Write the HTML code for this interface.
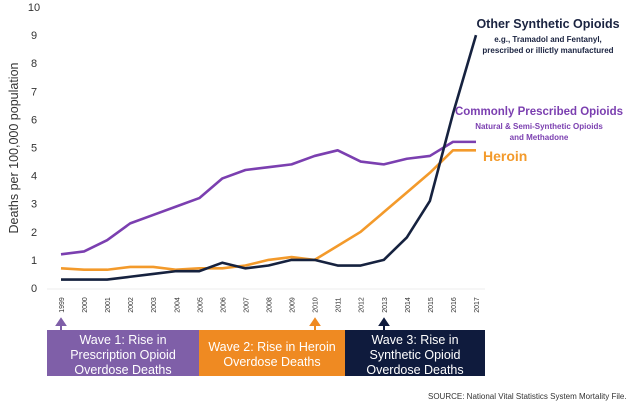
<!DOCTYPE html>
<html><head><meta charset="utf-8"><style>
body{margin:0;background:#fff;width:634px;height:411px;overflow:hidden;font-family:"Liberation Sans",sans-serif}
svg text{font-family:"Liberation Sans",sans-serif}
</style></head><body>
<svg width="634" height="411">
<g id="axes"></g><g id="lines"></g>
<g>
<rect x="47" y="330" width="152" height="46" fill="#7f5fa8"/>
<rect x="199" y="330" width="146" height="46" fill="#ef8a22"/>
<rect x="345" y="330" width="140" height="46" fill="#0f1b3d"/>
<g fill="#fff" font-size="12.5" text-anchor="middle">
<text x="123" y="344"><tspan x="123">Wave 1: Rise in</tspan><tspan x="123" dy="15">Prescription Opioid</tspan><tspan x="123" dy="15">Overdose Deaths</tspan></text>
<text x="272" y="351"><tspan x="272">Wave 2: Rise in Heroin</tspan><tspan x="272" dy="15">Overdose Deaths</tspan></text>
<text x="415" y="344"><tspan x="415">Wave 3: Rise in</tspan><tspan x="415" dy="15">Synthetic Opioid</tspan><tspan x="415" dy="15">Overdose Deaths</tspan></text>
</g>
<path d="M61 330V321M57 325L61 319L65 325Z" stroke="#7f5fa8" stroke-width="2" fill="#7f5fa8"/>
<path d="M315 330V321M311 325L315 319L319 325Z" stroke="#ef8a22" stroke-width="2" fill="#ef8a22"/>
<path d="M384 330V321M380 325L384 319L388 325Z" stroke="#0f1b3d" stroke-width="2" fill="#0f1b3d"/>
</g>
<text x="548" y="28" font-size="12.5" font-weight="bold" fill="#1a2340" text-anchor="middle">Other Synthetic Opioids</text>
<text x="548" y="42" font-size="8" font-weight="bold" fill="#1a2340" text-anchor="middle">e.g., Tramadol and Fentanyl,</text>
<text x="548" y="53" font-size="8" font-weight="bold" fill="#1a2340" text-anchor="middle">prescribed or illictly manufactured</text>
<text x="539" y="115" font-size="11.5" font-weight="bold" fill="#7b3fb0" text-anchor="middle">Commonly Prescribed Opioids</text>
<text x="539" y="129" font-size="8" font-weight="bold" fill="#7b3fb0" text-anchor="middle">Natural &amp; Semi-Synthetic Opioids</text>
<text x="539" y="140" font-size="8" font-weight="bold" fill="#7b3fb0" text-anchor="middle">and Methadone</text>
<text x="483" y="161" font-size="14" font-weight="bold" fill="#f39a2b">Heroin</text>
<text x="428" y="399" font-size="8" fill="#333">SOURCE: National Vital Statistics System Mortality File.</text>
<text transform="translate(18,148) rotate(-90)" font-size="12.5" fill="#333" text-anchor="middle">Deaths per 100,000 population</text>
</svg>
<script>
const years=[1999,2000,2001,2002,2003,2004,2005,2006,2007,2008,2009,2010,2011,2012,2013,2014,2015,2016,2017];
const prescribed=[1.2,1.3,1.7,2.3,2.6,2.9,3.2,3.9,4.2,4.3,4.4,4.7,4.9,4.5,4.4,4.6,4.7,5.2,5.2];
const heroin=[0.7,0.65,0.65,0.75,0.75,0.65,0.7,0.7,0.8,1.0,1.1,1.0,1.5,2.0,2.7,3.4,4.1,4.9,4.9];
const synthetic=[0.3,0.3,0.3,0.4,0.5,0.6,0.6,0.9,0.7,0.8,1.0,1.0,0.8,0.8,1.0,1.8,3.1,6.2,9.0];
const yTicks=[0,1,2,3,4,5,6,7,8,9,10];
const NS="http://www.w3.org/2000/svg";
const x=i=>61+i*(476-61)/(years.length-1);
const y=v=>288-v*28.1;
const axes=document.getElementById('axes'),lines=document.getElementById('lines');
const bl=document.createElementNS(NS,'line');
bl.setAttribute('x1',47);bl.setAttribute('x2',485);bl.setAttribute('y1',289);bl.setAttribute('y2',289);bl.setAttribute('stroke','#eee');


axes.appendChild(bl);
yTicks.forEach(t=>{const e=document.createElementNS(NS,'text');e.setAttribute('x',34);e.setAttribute('y',y(t)+4);e.setAttribute('font-size','11');e.setAttribute('fill','#333');e.setAttribute('text-anchor','middle');e.textContent=t;


axes.appendChild(e);});
years.forEach((yr,i)=>{const e=document.createElementNS(NS,'text');e.setAttribute('transform',`translate(${x(i)+3},305) rotate(-90)`);e.setAttribute('font-size','7');e.setAttribute('fill','#333');e.setAttribute('text-anchor','middle');e.textContent=yr;


axes.appendChild(e);});
function draw(vals,color,name){const p=document.createElementNS(NS,'polyline');p.setAttribute('points',vals.map((v,i)=>x(i)+','+y(v)).join(' '));p.setAttribute('fill','none');p.setAttribute('stroke',color);p.setAttribute('stroke-width','2.6');p.setAttribute('stroke-linejoin','round');


lines.appendChild(p);}
draw(prescribed,'#7b3fb0','prescribed-line');
draw(heroin,'#f39a2b','heroin-line');
draw(synthetic,'#16223f','synthetic-line');
</script>
</body></html>
